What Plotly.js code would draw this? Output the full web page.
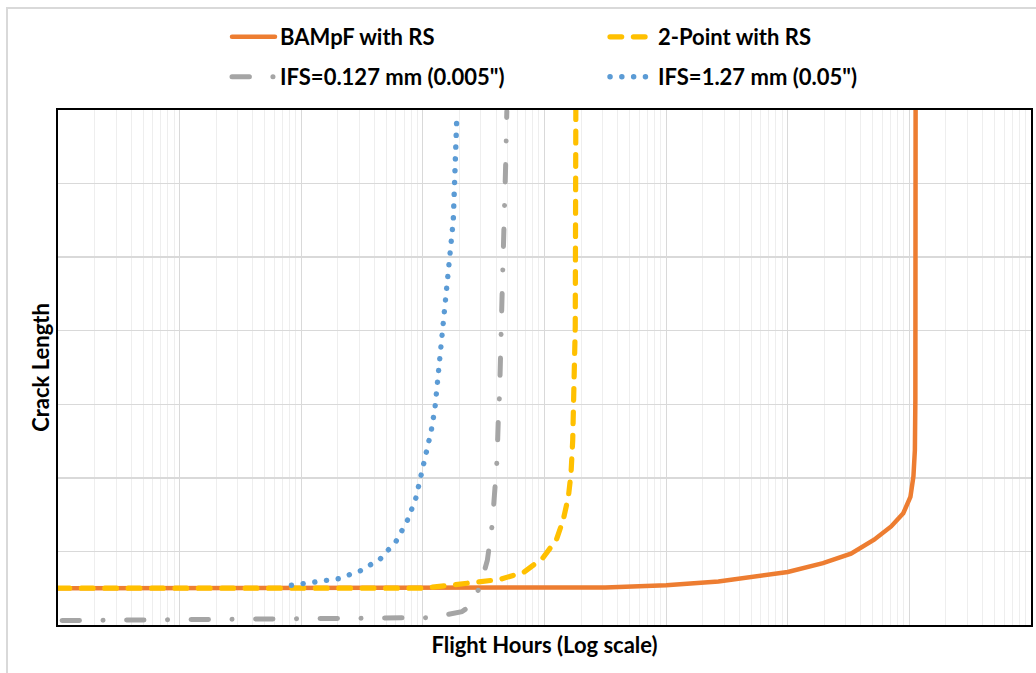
<!DOCTYPE html>
<html><head><meta charset="utf-8">
<script src="https://cdn.plot.ly/plotly-3.0.1.min.js"></script>
<style>
html,body{margin:0;padding:0;background:#fff;}
#chart{width:1036px;height:673px;}
.js-line{stroke-linecap:round !important;}
</style></head><body><div id="chart"></div>
<script>
// Values (flight hours on a log axis, crack length in relative units)
const seriesNames = ['BAMpF with RS', '2-Point with RS', 'IFS=0.127 mm (0.005")', 'IFS=1.27 mm (0.05")'];

const bampfHours = [1, 1000, 10000, 31600, 100000, 269000, 1000000, 1950000, 3310000, 5130000, 7080000, 8910000, 10200000, 10800000, 11100000, 11200000, 11250000];
const bampfCrack = [0.5, 0.5, 0.5, 0.51, 0.54, 0.59, 0.72, 0.84, 0.97, 1.16, 1.34, 1.52, 1.74, 2.02, 2.38, 3.06, 7.0];

const twoPointHours = [1, 1000, 1660, 2570, 4330, 6790, 9680, 12530, 14260, 15710, 16520, 17060, 17400, 17900, 18100];
const twoPointCrack = [0.5, 0.5, 0.54, 0.575, 0.62, 0.72, 0.91, 1.16, 1.43, 1.74, 2.06, 2.51, 3.1, 4.05, 7.0];

const ifsSmallHours = [1.08, 15.5, 1150, 2090, 2450, 2950, 3390, 3720, 3890, 4070, 4170, 4270, 4470, 4680, 4790, 4900];
const ifsSmallCrack = [0.06, 0.077, 0.1, 0.18, 0.26, 0.52, 0.88, 1.37, 1.83, 2.24, 2.79, 3.13, 4.42, 5.33, 6.23, 6.98];

const ifsLargeHours = [83, 129, 204, 309, 447, 603, 741, 871, 955, 1072, 1175, 1259, 1380, 1585, 1778, 1905];
const ifsLargeCrack = [0.54, 0.58, 0.63, 0.74, 0.90, 1.14, 1.41, 1.71, 2.02, 2.33, 2.65, 2.96, 3.6, 4.55, 5.5, 6.95];

const xRangeLog = [0, 8];
const yRange = [0, 7];

const FONT = 'Lato, "Open Sans", sans-serif';

const traces = [
  {x: bampfHours, y: bampfCrack, name: seriesNames[0], type: 'scatter', mode: 'lines',
   line: {color: '#ED7D31', width: 4.5}, legend: 'legend'},
  {x: twoPointHours, y: twoPointCrack, name: seriesNames[1], type: 'scatter', mode: 'lines',
   line: {color: '#FFC000', width: 5.2, dash: '11.7px,11.7px'}, legend: 'legend'},
  {x: ifsSmallHours, y: ifsSmallCrack, name: seriesNames[2], type: 'scatter', mode: 'lines',
   line: {color: '#A5A5A5', width: 5, dash: '17.4px,23.5px,0.1px,23.5px'}, legend: 'legend2'},
  {x: ifsLargeHours, y: ifsLargeCrack, name: seriesNames[3], type: 'scatter', mode: 'lines',
   line: {color: '#5B9BD5', width: 5.4, dash: '0.1px,11.7px'}, legend: 'legend2'}
];

const legendCommon = {
  orientation: 'h', xref: 'container', yref: 'container',
  xanchor: 'left', yanchor: 'middle',
  entrywidth: 320, entrywidthmode: 'pixels', itemwidth: 43,
  bgcolor: 'rgba(0,0,0,0)', borderwidth: 0,
  font: {family: FONT, size: 22, color: '#000', weight: 'bold'}
};

const layout = {
  width: 1036, height: 673,
  margin: {l: 58, r: 5, t: 110, b: 48, pad: 0},
  paper_bgcolor: '#fff', plot_bgcolor: '#fff',
  showlegend: true,
  legend: Object.assign({}, legendCommon, {x: 227/1036, y: 1 - 37/673}),
  legend2: Object.assign({}, legendCommon, {x: 227/1036, y: 1 - 77/673}),
  xaxis: {
    type: 'log', range: xRangeLog, dtick: 1, showticklabels: false, ticks: '',
    showgrid: true, gridcolor: '#d9d9d9', gridwidth: 1,
    minor: {showgrid: true, gridcolor: '#eeeeee', gridwidth: 1, dtick: 'D1', ticks: ''},
    showline: true, linecolor: '#000', linewidth: 2, mirror: true, zeroline: false,
    title: {text: 'Flight Hours (Log scale)', standoff: 12,
            font: {family: FONT, size: 22, color: '#000', weight: 'bold'}}
  },
  yaxis: {
    range: yRange, dtick: 1, showticklabels: false, ticks: '',
    showgrid: true, gridcolor: '#d9d9d9', gridwidth: 1.3,
    showline: true, linecolor: '#000', linewidth: 2, mirror: true, zeroline: false,
    title: {text: 'Crack Length', standoff: 0,
            font: {family: FONT, size: 22, color: '#000', weight: 'bold'}}
  },
  shapes: [{type: 'rect', xref: 'paper', yref: 'paper', layer: 'below',
            x0: -0.0524, x1: 1.05, y0: -0.2, y1: 1.198,
            line: {color: '#d9d9d9', width: 2}, fillcolor: 'rgba(0,0,0,0)'}]
};

Plotly.newPlot('chart', traces, layout, {staticPlot: true, displayModeBar: false});
</script></body></html>
